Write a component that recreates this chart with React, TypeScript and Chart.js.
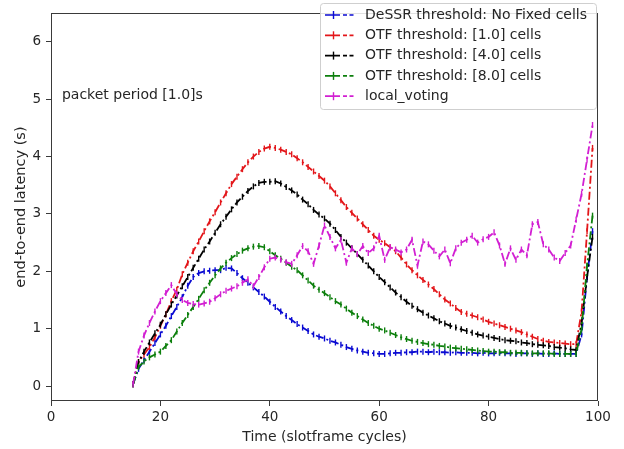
import React, { useEffect, useRef } from 'react';
import { Chart, registerables } from 'chart.js';

Chart.register(...registerables);

// ---------- data ----------
const cycles = [
  15, 16, 17, 18, 19, 20, 21, 22, 23, 24,
  25, 26, 27, 28, 29, 30, 31, 32, 33, 34,
  35, 36, 37, 38, 39, 40, 41, 42, 43, 44,
  45, 46, 47, 48, 49, 50, 51, 52, 53, 54,
  55, 56, 57, 58, 59, 60, 61, 62, 63, 64,
  65, 66, 67, 68, 69, 70, 71, 72, 73, 74,
  75, 76, 77, 78, 79, 80, 81, 82, 83, 84,
  85, 86, 87, 88, 89, 90, 91, 92, 93, 94,
  95, 96, 97, 98, 99,
];

const dessrNoFixed = [
  0.03, 0.3, 0.45, 0.6, 0.75, 0.9, 1.05, 1.22, 1.38, 1.55,
  1.75, 1.9, 1.97, 2.0, 2.01, 2.02, 2.02, 2.06, 2.05, 1.97,
  1.88, 1.8, 1.72, 1.64, 1.56, 1.47, 1.38, 1.3, 1.22, 1.15,
  1.08, 1.02, 0.96, 0.9, 0.86, 0.83, 0.79, 0.76, 0.72, 0.68,
  0.65, 0.62, 0.6, 0.58, 0.57, 0.56, 0.56, 0.57, 0.58, 0.58,
  0.59, 0.59, 0.6, 0.6, 0.59, 0.6, 0.59, 0.59, 0.58, 0.59,
  0.58, 0.58, 0.58, 0.57, 0.58, 0.57, 0.57, 0.58, 0.57, 0.57,
  0.56, 0.57, 0.57, 0.56, 0.57, 0.56, 0.56, 0.57, 0.56, 0.56,
  0.56, 0.56, 0.9, 1.9, 2.7,
];

const otf1 = [
  0.03, 0.42, 0.55, 0.68, 0.85, 1.05, 1.25, 1.48, 1.68, 1.95,
  2.15, 2.35, 2.52, 2.7, 2.87, 3.03, 3.2, 3.36, 3.52, 3.65,
  3.78, 3.9, 4.0, 4.08, 4.14, 4.17, 4.15, 4.12, 4.08, 4.04,
  3.97, 3.9, 3.82, 3.74, 3.66, 3.58, 3.48, 3.36, 3.24, 3.12,
  3.02, 2.92, 2.82, 2.72, 2.62, 2.55, 2.49, 2.42, 2.35, 2.24,
  2.12, 2.02, 1.93, 1.85, 1.77, 1.69, 1.6, 1.51, 1.44, 1.36,
  1.29, 1.26, 1.23, 1.2, 1.16, 1.12, 1.09, 1.06, 1.03, 1.0,
  0.97, 0.94, 0.9, 0.86, 0.82, 0.79, 0.77, 0.76, 0.75, 0.74,
  0.73, 0.73, 1.3, 2.7, 4.15,
];

const otf4 = [
  0.03, 0.42, 0.6, 0.76, 0.92, 1.07, 1.25, 1.42, 1.58, 1.74,
  1.9, 2.06, 2.22, 2.38, 2.52, 2.67, 2.82, 2.95, 3.08, 3.2,
  3.3, 3.4, 3.48, 3.54, 3.56, 3.56, 3.57, 3.53, 3.47, 3.41,
  3.34, 3.25, 3.17, 3.07, 2.99, 2.92, 2.83, 2.72, 2.6, 2.5,
  2.4, 2.3, 2.2, 2.1, 2.0, 1.9, 1.81, 1.72, 1.63, 1.55,
  1.47, 1.4, 1.34, 1.28, 1.23, 1.18, 1.13, 1.09, 1.05, 1.02,
  0.99, 0.96, 0.93, 0.9, 0.88, 0.86, 0.84, 0.82, 0.8, 0.79,
  0.78, 0.76, 0.75, 0.73, 0.72, 0.71, 0.7, 0.68, 0.67, 0.66,
  0.64, 0.63, 1.1, 1.9, 2.6,
];

const otf8 = [
  0.03, 0.33, 0.43, 0.5, 0.55, 0.6, 0.7, 0.8, 0.95, 1.1,
  1.24, 1.38, 1.52, 1.67, 1.8, 1.93, 2.05, 2.15, 2.23, 2.3,
  2.36, 2.4, 2.43, 2.44, 2.42, 2.35, 2.28, 2.22, 2.15, 2.08,
  2.02, 1.93, 1.84, 1.75, 1.68, 1.62, 1.55, 1.48, 1.42, 1.35,
  1.28, 1.22, 1.16, 1.1, 1.05, 1.0, 0.97, 0.93, 0.89, 0.85,
  0.82, 0.79, 0.77, 0.75, 0.73, 0.72, 0.7, 0.69, 0.67, 0.66,
  0.65, 0.64, 0.63, 0.62, 0.61, 0.6, 0.6, 0.59, 0.59, 0.58,
  0.58, 0.58, 0.57, 0.57, 0.57, 0.57, 0.57, 0.56, 0.56, 0.56,
  0.56, 0.56, 1.0, 2.1, 2.97,
];

const localVoting = [
  0.03, 0.6, 0.88, 1.1, 1.3, 1.48, 1.62, 1.76, 1.6, 1.5,
  1.45, 1.43, 1.42, 1.44, 1.47, 1.53, 1.6, 1.66, 1.7, 1.74,
  1.8, 1.86, 1.74, 1.9, 2.07, 2.22, 2.24, 2.2, 2.16, 2.13,
  2.28, 2.44, 2.35, 2.13, 2.45, 2.8, 2.6, 2.4, 2.55, 2.15,
  2.4, 2.3, 2.44, 2.32, 2.4, 2.62, 2.2, 2.42, 2.38, 2.33,
  2.38, 2.55, 2.1, 2.52, 2.47, 2.36, 2.26, 2.38, 2.14, 2.4,
  2.5, 2.55, 2.62, 2.5, 2.56, 2.6, 2.68, 2.45, 2.13, 2.4,
  2.2, 2.38, 2.28, 2.82, 2.86, 2.47, 2.38, 2.24, 2.18, 2.32,
  2.45, 2.9, 3.35, 3.95, 4.55,
];

const seriesLabels = [
  'DeSSR threshold: No Fixed cells',
  'OTF threshold: [1.0] cells',
  'OTF threshold: [4.0] cells',
  'OTF threshold: [8.0] cells',
  'local_voting',
];
const seriesValues = [dessrNoFixed, otf1, otf4, otf8, localVoting];
const seriesColors = ['#0a0ad2', '#e3161a', '#000000', '#0c7f0c', '#d21fd2'];

const xTicks = [0, 20, 40, 60, 80, 100];
const yTicks = [0, 1, 2, 3, 4, 5, 6];

const xTitle = 'Time (slotframe cycles)';
const yTitle = 'end-to-end latency (s)';
const annotationText = 'packet period [1.0]s';
const annotationPos = { x: 2, y: 5 };

const FONT = "'DejaVu Sans', sans-serif";
const TEXT_COLOR = '#262626';

// ---------- plugins ----------
const framePlugin = {
  id: 'frame',
  afterDatasetsDraw(chart: any) {
    const { ctx, chartArea } = chart;
    ctx.save();
    ctx.strokeStyle = '#3a3a3a';
    ctx.lineWidth = 1;
    ctx.strokeRect(
      Math.round(chartArea.left) + 0.5,
      Math.round(chartArea.top) + 0.5,
      Math.round(chartArea.right - chartArea.left) - 1,
      Math.round(chartArea.bottom - chartArea.top) - 1
    );
    ctx.restore();
  },
};

const annotationPlugin = {
  id: 'annot',
  afterDatasetsDraw(chart: any) {
    const { ctx, scales } = chart;
    ctx.save();
    ctx.font = `14px ${FONT}`;
    ctx.fillStyle = TEXT_COLOR;
    ctx.textBaseline = 'alphabetic';
    ctx.textAlign = 'left';
    ctx.fillText(
      annotationText,
      scales.x.getPixelForValue(annotationPos.x),
      scales.y.getPixelForValue(annotationPos.y)
    );
    ctx.restore();
  },
};

const legendPlugin = {
  id: 'mplLegend',
  afterDraw(chart: any) {
    const { ctx } = chart;
    const ds = chart.data.datasets;
    const bx = 320.5, by = 3.5, bw = 276, bh = 106, r = 3;
    ctx.save();
    ctx.beginPath();
    ctx.moveTo(bx + r, by);
    ctx.lineTo(bx + bw - r, by);
    ctx.quadraticCurveTo(bx + bw, by, bx + bw, by + r);
    ctx.lineTo(bx + bw, by + bh - r);
    ctx.quadraticCurveTo(bx + bw, by + bh, bx + bw - r, by + bh);
    ctx.lineTo(bx + r, by + bh);
    ctx.quadraticCurveTo(bx, by + bh, bx, by + bh - r);
    ctx.lineTo(bx, by + r);
    ctx.quadraticCurveTo(bx, by, bx + r, by);
    ctx.closePath();
    ctx.fillStyle = 'rgba(255,255,255,0.85)';
    ctx.fill();
    ctx.strokeStyle = '#cfcfcf';
    ctx.lineWidth = 1;
    ctx.stroke();

    ds.forEach((d: any, i: number) => {
      const y = 15 + i * 20.3;
      ctx.strokeStyle = d.borderColor;
      ctx.lineWidth = 1.7;
      ctx.setLineDash([]);
      ctx.beginPath();
      ctx.moveTo(325, y); ctx.lineTo(340, y);
      ctx.moveTo(343, y); ctx.lineTo(347, y);
      ctx.moveTo(349.5, y); ctx.lineTo(353.5, y);
      ctx.stroke();
      ctx.lineWidth = 1.4;
      ctx.beginPath();
      ctx.moveTo(333.5, y - 4); ctx.lineTo(333.5, y + 4);
      ctx.stroke();
      ctx.font = `14px ${FONT}`;
      ctx.fillStyle = TEXT_COLOR;
      ctx.textBaseline = 'middle';
      ctx.textAlign = 'left';
      ctx.fillText(d.label, 365, y);
    });
    ctx.restore();
  },
};

export default function App() {
  const canvasRef = useRef<HTMLCanvasElement | null>(null);

  useEffect(() => {
    if (!canvasRef.current) return;
    const n = seriesValues.length;
    const datasets = seriesValues.map((vals, i) => ({
      label: seriesLabels[i],
      data: cycles.map((c, j) => ({ x: c, y: vals[j] })),
      borderColor: seriesColors[i],
      backgroundColor: seriesColors[i],
      borderWidth: 1.8,
      borderDash: [8, 3, 2, 3],
      tension: 0,
      fill: false,
      pointStyle: 'line' as const,
      pointRotation: 90,
      pointRadius: 3,
      pointBorderWidth: 1.4,
      pointBorderColor: seriesColors[i],
      pointHoverRadius: 3,
      order: n - i,
    }));

    const chart = new Chart(canvasRef.current, {
      type: 'line',
      data: { datasets },
      plugins: [framePlugin, annotationPlugin, legendPlugin],
      options: {
        animation: false,
        responsive: false,
        maintainAspectRatio: false,
        layout: { padding: { top: 1, right: 26, left: 0, bottom: 0 } },
        plugins: {
          legend: { display: false },
          tooltip: { enabled: false },
          title: { display: false },
        },
        scales: {
          x: {
            type: 'linear',
            min: 0,
            max: 100,
            afterFit: (s: any) => { s.height = 48; },
            afterBuildTicks: (s: any) => { s.ticks = xTicks.map((v) => ({ value: v })); },
            ticks: {
              font: { family: FONT, size: 13.5 },
              color: TEXT_COLOR,
              padding: 3,
              maxRotation: 0,
              autoSkip: false,
            },
            grid: {
              display: true,
              drawOnChartArea: false,
              drawTicks: true,
              tickLength: 5,
              color: '#3a3a3a',
              lineWidth: 1,
            },
            border: { display: false },
            title: {
              display: true,
              text: xTitle,
              font: { family: FONT, size: 14 },
              color: TEXT_COLOR,
              padding: { top: 0, bottom: 3 },
            },
          },
          y: {
            type: 'linear',
            min: -0.26,
            max: 6.5,
            afterFit: (s: any) => { s.width = 51; },
            afterBuildTicks: (s: any) => { s.ticks = yTicks.map((v) => ({ value: v })); },
            ticks: {
              font: { family: FONT, size: 13.5 },
              color: TEXT_COLOR,
              padding: 5,
              autoSkip: false,
            },
            grid: {
              display: true,
              drawOnChartArea: false,
              drawTicks: true,
              tickLength: 5,
              color: '#3a3a3a',
              lineWidth: 1,
            },
            border: { display: false },
            title: {
              display: true,
              text: yTitle,
              font: { family: FONT, size: 14.5 },
              color: TEXT_COLOR,
              padding: { top: 13, bottom: 0 },
            },
          },
        },
      },
    });
    return () => chart.destroy();
  }, []);

  return (
    <div style={{ position: 'fixed', left: 0, top: 0, width: 624, height: 449, background: '#fff' }}>
      <canvas ref={canvasRef} width={624} height={449} style={{ display: 'block', width: 624, height: 449 }} />
    </div>
  );
}
